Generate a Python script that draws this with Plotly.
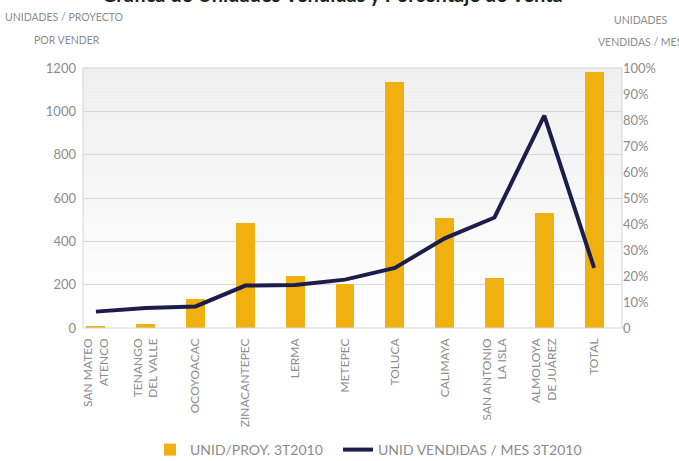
import plotly.graph_objects as go

# Projects (x-axis categories)
proyectos = [
    "SAN MATEO<br>ATENCO", "TENANGO<br>DEL VALLE", "OCOYOACAC", "ZINACANTEPEC",
    "LERMA", "METEPEC", "TOLUCA", "CALIMAYA", "SAN ANTONIO<br>LA ISLA",
    "ALMOLOYA<br>DE JUÁREZ", "TOTAL",
]
# Units per project still to sell (left axis)
unid_proy = [8, 17, 133, 485, 240, 201, 1137, 510, 233, 530, 1180]
# Units sold per month, as a share (right axis)
unid_vendidas_mes = [0.063, 0.077, 0.083, 0.163, 0.165, 0.186, 0.231, 0.345, 0.425, 0.817, 0.231]

left_ticks = [0, 200, 400, 600, 800, 1000, 1200]
right_ticks = [0, 0.1, 0.2, 0.3, 0.4, 0.5, 0.6, 0.7, 0.8, 0.9, 1.0]
right_ticktext = ["0", "10%", "20%", "30%", "40%", "50%", "60%", "70%", "80%", "90%", "100%"]

FONT = "Lato, Open Sans, sans-serif"
GRAY = "#8c8c8c"

# plot area in pixels: left 83, right 622, top 68, bottom 328
PL, PR, PT, PB = 83, 622, 68, 328
PW, PH = PR - PL, PB - PT


def px(xp):
    return (xp - PL) / PW


def py(yp):
    return (PB - yp) / PH


fig = go.Figure()
fig.add_trace(go.Bar(
    x=proyectos, y=unid_proy, name="UNID/PROY. 3T2010",
    marker=dict(color="#EFB010", line=dict(width=0)), width=0.38,
    legend="legend",
))
fig.add_trace(go.Scatter(
    x=proyectos, y=unid_vendidas_mes, name="UNID VENDIDAS / MES 3T2010",
    mode="lines", line=dict(color="#1d1d4d", width=4), yaxis="y2",
    legend="legend2",
))

# soft vertical gradient behind the plot area (light gray at top, white at bottom)
shapes = []
steps = 24
for i in range(steps):
    t = i / steps
    c = int(255 - 16 * t)
    shapes.append(dict(
        type="rect", xref="paper", yref="paper", layer="below",
        x0=0, x1=1, y0=i / steps, y1=(i + 1) / steps,
        fillcolor=f"rgb({c},{c},{c})", line=dict(width=0),
    ))
shapes.append(dict(type="rect", xref="paper", yref="paper", layer="above",
                   x0=0, x1=1, y0=0, y1=1, fillcolor="rgba(0,0,0,0)",
                   line=dict(color="#d4d4d4", width=1)))


def label(text, xc, yc, size=10.5, color=GRAY, bold=False):
    return dict(text=f"<b>{text}</b>" if bold else text,
                xref="paper", yref="paper", x=px(xc), y=py(yc),
                xanchor="center", yanchor="middle", showarrow=False,
                font=dict(family=FONT, size=size, color=color))


annotations = [
    label("Gráfica de Unidades Vendidas y Porcentaje de Venta", 332, -6, size=20,
          color="#222", bold=True),
    label("UNIDADES / PROYECTO", 64, 17),
    label("POR VENDER", 67, 40),
    label("UNIDADES", 641, 20),
    label("VENDIDAS / MES", 640, 42),
]

legend_style = dict(orientation="h", xanchor="left", yanchor="middle", y=py(450),
                    font=dict(family=FONT, size=14, color=GRAY), itemwidth=30,
                    tracegroupgap=0, bgcolor="rgba(0,0,0,0)")

fig.update_layout(
    width=679, height=461,
    margin=dict(l=PL, r=679 - PR, t=PT, b=461 - PB, autoexpand=False),
    paper_bgcolor="white", plot_bgcolor="rgba(0,0,0,0)",
    font=dict(family=FONT, color=GRAY),
    showlegend=True,
    legend=dict(x=px(150), **legend_style),
    legend2=dict(x=px(338), **legend_style),
    xaxis=dict(type="category", range=[-0.26, 10.56], tickangle=-90,
               tickfont=dict(family=FONT, size=12, color=GRAY),
               showgrid=False, ticks="", showline=False, ticklabelstandoff=7),
    yaxis=dict(range=[0, 1200], tickvals=left_ticks,
               tickfont=dict(family=FONT, size=13, color=GRAY),
               showgrid=True, gridcolor="#d9d9d9", gridwidth=1,
               zeroline=False, showline=False, ticks="", ticklabelstandoff=6),
    yaxis2=dict(range=[0, 1.0], overlaying="y", side="right",
                tickvals=right_ticks, ticktext=right_ticktext,
                tickfont=dict(family=FONT, size=13, color=GRAY),
                showgrid=False, zeroline=False, showline=False, ticks=""),
    bargap=0, shapes=shapes, annotations=annotations,
)

fig.write_html("out.html")
